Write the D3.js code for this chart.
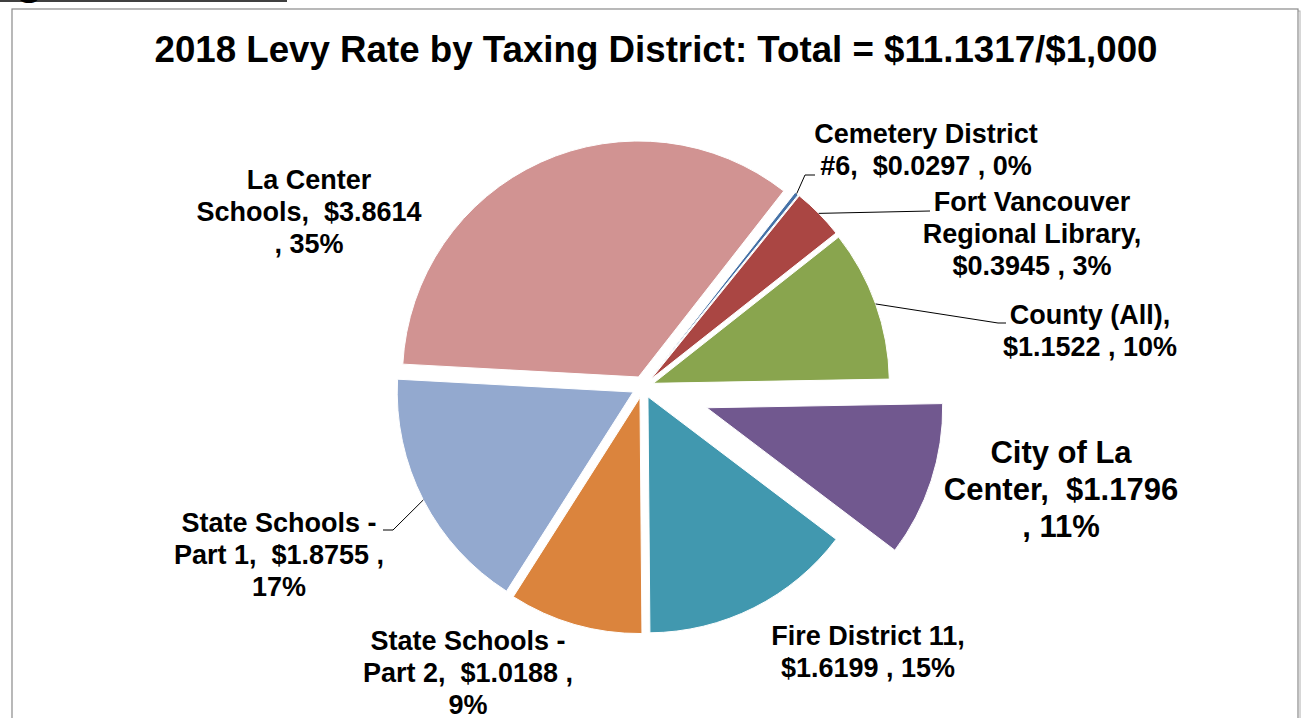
<!DOCTYPE html>
<html>
<head>
<meta charset="utf-8">
<script src="https://cdn.jsdelivr.net/npm/d3@7"></script>
<style>
  html, body { margin: 0; padding: 0; background: #fff; }
  svg { display: block; font-family: "Liberation Sans", Arial, sans-serif; font-weight: bold; }
  svg text { white-space: pre; }
</style>
</head>
<body>
<svg id="chart" width="1302" height="718"></svg>
<script>
const titleText = "2018 Levy Rate by Taxing District: Total = $11.1317/$1,000"

const districts = ["Cemetery District #6", "Fort Vancouver Regional Library", "County (All)",
  "City of La Center", "Fire District 11", "State Schools - Part 2", "State Schools - Part 1", "La Center Schools"]
const rates = [0.0297, 0.3945, 1.1522, 1.1796, 1.6199, 1.0188, 1.8755, 3.8614]
const percents = [0, 3, 10, 11, 15, 9, 17, 35]
const colors = ["#4572A7", "#AA4643", "#89A54E", "#71588F", "#4198AF", "#DB843D", "#93A9CF", "#D19392"]

// wrapped label text, as Excel shows it
const labelLines = [
  ["Cemetery District", "#6,  $0.0297 , 0%"],
  ["Fort Vancouver", "Regional Library,", "$0.3945 , 3%"],
  ["County (All),", "$1.1522 , 10%"],
  ["City of La", "Center,  $1.1796", ", 11%"],
  ["Fire District 11,", "$1.6199 , 15%"],
  ["State Schools -", "Part 2,  $1.0188 ,", "9%"],
  ["State Schools -", "Part 1,  $1.8755 ,", "17%"],
  ["La Center", "Schools,  $3.8614", ", 35%"]
]

const svg = d3.select("#chart")

// heading fragment cut off at the top of the page
svg.append("text").attr("x", -23).attr("y", -6)
  .style("font-size", "44px").attr("fill", "#000").text("Figure")
svg.append("line").attr("x1", 0).attr("x2", 287).attr("y1", 1).attr("y2", 1)
  .attr("stroke", "#000").attr("stroke-width", 1.5)

// chart frame
svg.append("rect").attr("x", 14).attr("y", 11).attr("width", 1286).attr("height", 740)
  .attr("fill", "none").attr("stroke", "#b0b0b0").attr("stroke-width", 1)
svg.append("rect").attr("x", 12).attr("y", 9).attr("width", 1286).attr("height", 740)
  .attr("fill", "#fff").attr("stroke", "#8a8a8a").attr("stroke-width", 1.2)

svg.append("text")
  .attr("x", 656).attr("y", 62)
  .attr("text-anchor", "middle")
  .style("font-size", "36.7px")
  .text(titleText)

const cx = 643, cy = 387, radius = 236
const startDeg = 38
const explode = [11, 11, 11, 67, 11, 11, 11, 11]

const pie = d3.pie().sort(null).value(d => d)
  .startAngle(startDeg * Math.PI / 180)
  .endAngle((startDeg + 360) * Math.PI / 180)
const arcs = pie(rates)
const arc = d3.arc().innerRadius(0).outerRadius(radius)

const mid = d => (d.startAngle + d.endAngle) / 2
const shift = (d, i) => [explode[i] * Math.sin(mid(d)), -explode[i] * Math.cos(mid(d))]
const outerPoint = (d, i) => {
  const s = shift(d, i), a = mid(d)
  return [cx + s[0] + radius * Math.sin(a), cy + s[1] - radius * Math.cos(a)]
}

const g = svg.append("g").attr("transform", `translate(${cx},${cy})`)

g.selectAll("path")
  .data(arcs)
  .join("path")
  .attr("d", arc)
  .attr("transform", (d, i) => `translate(${shift(d, i)})`)
  .attr("fill", (d, i) => colors[i])
  .attr("stroke", "#fff")
  .attr("stroke-width", 1)

// leader lines (label end points)
const leaders = [
  { i: 0, pts: [[805, 175], [815, 175]] },
  { i: 1, pts: [[930, 211]] },
  { i: 2, pts: [[998, 323], [1006, 323]] },
  { i: 6, pts: [[393, 530], [383, 530]] }
]
leaders.forEach(l => {
  const p0 = outerPoint(arcs[l.i], l.i)
  svg.append("path")
    .attr("d", d3.line()([p0, ...l.pts]))
    .attr("fill", "none").attr("stroke", "#000").attr("stroke-width", 1)
})

// data labels
const labelPos = [
  { x: 926, y: 143, size: 27, lh: 32 },
  { x: 1032, y: 211, size: 27, lh: 32 },
  { x: 1090, y: 324, size: 27, lh: 32 },
  { x: 1061, y: 463, size: 31, lh: 37 },
  { x: 868, y: 645, size: 27, lh: 32 },
  { x: 468, y: 650, size: 27, lh: 32 },
  { x: 279, y: 532, size: 27, lh: 32 },
  { x: 309, y: 189, size: 27, lh: 32 }
]

labelLines.forEach((lines, i) => {
  const p = labelPos[i]
  const t = svg.append("text")
    .attr("text-anchor", "middle")
    .style("font-size", p.size + "px")
    .attr("fill", "#000")
  lines.forEach((s, k) => {
    t.append("tspan").attr("x", p.x).attr("y", p.y + k * p.lh).text(s)
  })
})
</script>
</body>
</html>
